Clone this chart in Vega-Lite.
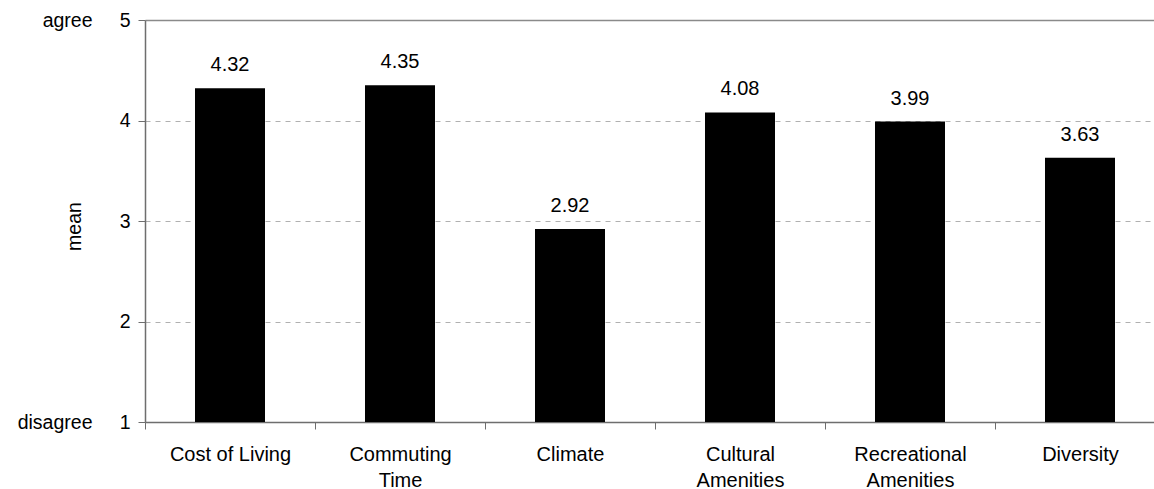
{
  "$schema": "https://vega.github.io/schema/vega-lite/v6.json",
  "autosize": {"type": "none"},
  "width": 1009,
  "height": 402,
  "padding": {"left": 145, "top": 20, "right": 0, "bottom": 67},
  "config": {
    "font": "Liberation Sans",
    "view": {"stroke": null},
    "axis": {"labelFont": "Liberation Sans", "titleFont": "Liberation Sans", "labelColor": "#000", "titleColor": "#000"}
  },
  "data": {
    "values": [
      {"category": "Cost of Living", "mean": 4.32},
      {"category": "Commuting Time", "mean": 4.35},
      {"category": "Climate", "mean": 2.92},
      {"category": "Cultural Amenities", "mean": 4.08},
      {"category": "Recreational Amenities", "mean": 3.99},
      {"category": "Diversity", "mean": 3.63}
    ]
  },
  "encoding": {
    "x": {
      "field": "category", "type": "nominal", "sort": null,
      "scale": {"type": "band", "paddingInner": 0, "paddingOuter": 0, "range": [0, 1020]},
      "axis": {
        "title": null, "labelAngle": 0, "labelFontSize": 20, "labelPadding": 15,
        "labelLineHeight": 26, "tickBand": "extent", "tickSize": 7,
        "domainColor": "#6e6e6e", "tickColor": "#6e6e6e", "domainWidth": 1.5,
        "labelExpr": "datum.label == 'Cost of Living' ? datum.label : split(datum.label, ' ')",
        "grid": false
      }
    }
  },
  "layer": [
    {
      "mark": {"type": "bar", "color": "#000", "width": {"band": 0.4118}},
      "encoding": {
        "y": {
          "field": "mean", "type": "quantitative",
          "scale": {"domain": [1, 5], "nice": false, "zero": false},
          "axis": {
            "title": "mean", "titleFontSize": 19.5, "titleFontWeight": "normal",
            "titleAngle": -90, "titleX": -71, "titleY": 206, "titleAlign": "center", "titleBaseline": "middle",
            "values": [1, 2, 3, 4, 5], "format": "d", "labelFontSize": 19.5, "labelPadding": 8,
            "tickSize": 7, "domainColor": "#6e6e6e", "tickColor": "#6e6e6e", "domainWidth": 1.5,
            "grid": true, "gridColor": {"condition": {"test": "datum.value == 5", "value": "#8a8a8a"}, "value": "#b0b0b0"},
            "gridDash": {"condition": {"test": "datum.value == 5", "value": []}, "value": [5, 5]},
            "gridWidth": {"condition": {"test": "datum.value == 5", "value": 1.5}, "value": 1}
          }
        },
        "y2": {"datum": 1}
      }
    },
    {
      "mark": {"type": "text", "baseline": "bottom", "dy": -13, "fontSize": 20, "color": "#000"},
      "encoding": {
        "y": {"field": "mean", "type": "quantitative", "scale": {"domain": [1, 5], "nice": false, "zero": false}, "axis": null},
        "text": {"field": "mean", "type": "quantitative", "format": ".2f"}
      }
    },
    {
      "mark": {"type": "point", "opacity": 0},
      "encoding": {
        "y": {
          "field": "mean", "type": "quantitative",
          "scale": {"domain": [1, 5], "nice": false, "zero": false},
          "axis": {
            "orient": "left", "title": null, "offset": 53, "values": [1, 5],
            "labelExpr": "datum.value == 5 ? 'agree' : datum.value == 1 ? 'disagree' : ''",
            "labelFontSize": 19.5, "labelPadding": 0, "ticks": false, "domain": false, "grid": false
          }
        }
      }
    }
  ],
  "resolve": {"scale": {"y": "independent"}}
}
